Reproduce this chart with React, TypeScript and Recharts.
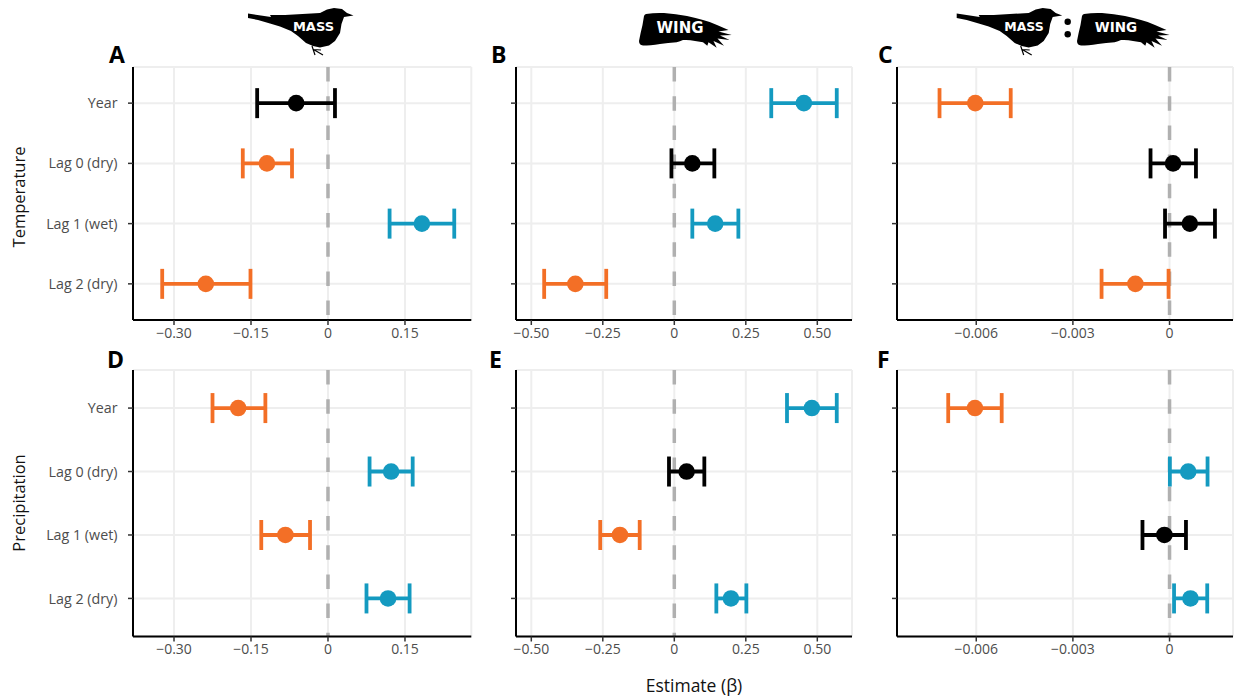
import {
  ScatterChart,
  Scatter,
  ErrorBar,
  XAxis,
  YAxis,
  CartesianGrid,
  ReferenceLine,
} from "recharts";

const ROW_LABELS = ["Year", "Lag 0 (dry)", "Lag 1 (wet)", "Lag 2 (dry)"];
const ROW_POS = [1, 2, 3, 4];

// mass panels
const aEst = [-0.062, -0.119, 0.183, -0.238];
const aLow = [-0.138, -0.166, 0.12, -0.323];
const aHigh = [0.0136, -0.0701, 0.246, -0.151];
const dEst = [-0.175, 0.123, -0.083, 0.117];
const dLow = [-0.225, 0.081, -0.13, 0.075];
const dHigh = [-0.122, 0.165, -0.035, 0.159];

// wing panels
const bEst = [0.453, 0.063, 0.143, -0.346];
const bLow = [0.339, -0.01, 0.063, -0.455];
const bHigh = [0.568, 0.14, 0.224, -0.238];
const eEst = [0.481, 0.043, -0.19, 0.198];
const eLow = [0.394, -0.0186, -0.259, 0.147];
const eHigh = [0.568, 0.105, -0.121, 0.252];

// mass:wing panels
const cEst = [-0.00603, 0.00011, 0.00063, -0.00106];
const cLow = [-0.00714, -0.00059, -0.00014, -0.00211];
const cHigh = [-0.00493, 0.00082, 0.00141, -0.00003];
const fEst = [-0.00604, 0.00058, -0.00016, 0.00065];
const fLow = [-0.00687, 0.00001, -0.00084, 0.00014];
const fHigh = [-0.00521, 0.00118, 0.00051, 0.00117];

const massTicks = [-0.3, -0.15, 0, 0.15];
const massTickLabels = ["−0.30", "−0.15", "0", "0.15"];
const wingTicks = [-0.5, -0.25, 0, 0.25, 0.5];
const wingTickLabels = ["−0.50", "−0.25", "0", "0.25", "0.50"];
const ratioTicks = [-0.006, -0.003, 0];
const ratioTickLabels = ["−0.006", "−0.003", "0"];

const ORANGE = "#f36f26";
const BLUE = "#149ac0";
const BLACK = "#000000";
const FONT = "'Open Sans', sans-serif";
const DASH = 14.5;
const GAP = 14.7;

const BIRD =
  "M248 13.5 L271 17 L270 15 L285 15 L320 13 L327 9.5 L334 8 L342 9 L347 13 L353.5 15.5 L344 17 L341.5 24 L340 33 L335 41 L329 45.5 L320 47.5 L313 46 L306 43 L298 36 L291 31 L280 26.5 L270 23.5 L258 20 L248 18 Z";
const LEGS = "M312 46 L315 55 M313.5 49.5 L323 55 M313.5 49.5 L321 50";
const WING =
  "M646 14 Q655 12.5 664 13 Q676 14 687 16 Q696 18 703 20 Q711 22 717 25 L728.5 30 L718.5 31.5 L731.7 35 L720 35.5 L729.5 40 L717.5 38.5 L724 45.7 L713.5 41 L716.7 47.7 L708.5 42.3 L707.3 45.7 L703 42.3 L695 41 Q689 39.5 683 40 Q680 41.5 676.7 42.3 Q668 43 660 44 Q650 45.5 643 45.5 Q639 45 639 41 Q640.5 33 642.5 25 Q643.5 19 644 16 Q644.5 14.5 646 14 Z";

// dash pattern that lands a whole dash on the bottom end of a line drawn downwards
function dashesFromBottom(height: number) {
  const period = DASH + GAP;
  const phase = (period * 20 - (height - DASH)) % period;
  const first = phase < DASH ? [DASH - phase, GAP] : [0, period - phase];
  const rest = Array(24).fill(`${DASH} ${GAP}`).join(" ");
  return `${first.join(" ")} ${rest}`;
}

type PanelProps = {
  left: number;
  top: number;
  width: number;
  height: number;
  domain: [number, number];
  ticks: number[];
  tickLabels: string[];
  est: number[];
  low: number[];
  high: number[];
  showRows?: boolean;
};

function Panel(props: PanelProps) {
  const { left, top, width, height, domain, ticks, tickLabels, est, low, high, showRows } = props;

  const rows = est.map((x, i) => ({
    x,
    y: ROW_POS[i],
    err: [x - low[i], high[i] - x],
    color: low[i] > 0 ? BLUE : high[i] < 0 ? ORANGE : BLACK,
  }));
  const colors = [BLACK, ORANGE, BLUE].filter((c) => rows.some((r) => r.color === c));

  return (
    <div style={{ position: "absolute", left: left - 133, top: top - 10 }}>
      <ScatterChart
        width={133 + width + 10}
        height={10 + height + 40}
        margin={{ top: 10, right: 10, bottom: 0, left: 0 }}
      >
        <CartesianGrid stroke="#eeeeee" strokeWidth={2} />
        <XAxis
          type="number"
          dataKey="x"
          domain={domain}
          ticks={ticks}
          interval={0}
          height={40}
          tickSize={5}
          tickMargin={3}
          tickFormatter={(v: number) => tickLabels[ticks.indexOf(v)]}
          axisLine={{ stroke: "#000", strokeWidth: 2 }}
          tickLine={{ stroke: "#333", strokeWidth: 1.5 }}
          tick={{ fill: "#4d4d4d", fontSize: 14, fontFamily: FONT }}
        />
        <YAxis
          type="number"
          dataKey="y"
          reversed
          domain={[0.4, 4.6]}
          ticks={ROW_POS}
          interval={0}
          width={133}
          tickSize={5}
          tickMargin={10.5}
          tickFormatter={(v: number) => (showRows ? ROW_LABELS[v - 1] : "")}
          axisLine={{ stroke: "#000", strokeWidth: 2 }}
          tickLine={{ stroke: "#333", strokeWidth: 1.5 }}
          tick={{ fill: "#4d4d4d", fontSize: 14.3, fontFamily: FONT }}
        />
        <ReferenceLine
          x={0}
          stroke="#b0b0b0"
          strokeWidth={3.5}
          strokeDasharray={dashesFromBottom(height)}
        />
        {colors.map((c) => (
          <Scatter
            key={c}
            data={rows.filter((r) => r.color === c)}
            isAnimationActive={false}
            shape={(p: any) => <circle cx={p.cx} cy={p.cy} r={8.3} fill={c} />}
          >
            <ErrorBar dataKey="err" direction="x" width={15} stroke={c} strokeWidth={3.8} isAnimationActive={false} />
          </Scatter>
        ))}
      </ScatterChart>
    </div>
  );
}

function Icons() {
  const letter = { fontFamily: FONT, fontWeight: 700, fontSize: 23, fill: "#000" };
  const label = { fontFamily: FONT, fill: "#111" };
  const icon = { fontFamily: "'DejaVu Sans'", fontWeight: 700, fill: "#fff" };
  return (
    <svg width={1239} height={700} style={{ position: "absolute", left: 0, top: 0, pointerEvents: "none" }}>
      <path d={BIRD} fill="#000" />
      <path d={LEGS} stroke="#000" strokeWidth={1.2} fill="none" />
      <text x={313.5} y={31} textAnchor="middle" fontSize={13} {...icon}>MASS</text>

      <path d={WING} fill="#000" />
      <text x={680} y={33} textAnchor="middle" fontSize={15} {...icon}>WING</text>

      <g transform="translate(708.7 0)">
        <path d={BIRD} fill="#000" />
        <path d={LEGS} stroke="#000" strokeWidth={1.2} fill="none" />
      </g>
      <text x={1024} y={31} textAnchor="middle" fontSize={12.5} {...icon}>MASS</text>
      <circle cx={1067.7} cy={21.7} r={3.2} fill="#000" />
      <circle cx={1067.7} cy={34.3} r={3.2} fill="#000" />
      <g transform="translate(438 0)">
        <path d={WING} fill="#000" />
      </g>
      <text x={1116} y={32} textAnchor="middle" fontSize={13.5} {...icon}>WING</text>

      <text x={109} y={62.5} {...letter}>A</text>
      <text x={491} y={62.5} {...letter}>B</text>
      <text x={878} y={62.5} {...letter}>C</text>
      <text x={107} y={368} {...letter}>D</text>
      <text x={489} y={368} {...letter}>E</text>
      <text x={877} y={368} {...letter}>F</text>

      <text x={0} y={0} transform="translate(25 197) rotate(-90)" textAnchor="middle" fontSize={16.5} {...label}>Temperature</text>
      <text x={0} y={0} transform="translate(25 503) rotate(-90)" textAnchor="middle" fontSize={16.5} {...label}>Precipitation</text>
      <text x={694} y={691.5} textAnchor="middle" fontSize={17.5} {...label}>Estimate (β)</text>
    </svg>
  );
}

export default function App() {
  return (
    <div style={{ position: "absolute", left: 0, top: 0, width: 1239, height: 700 }}>
      <Panel left={132.7} top={67} width={338.3} height={253} domain={[-0.3799, 0.2792]} ticks={massTicks} tickLabels={massTickLabels} est={aEst} low={aLow} high={aHigh} showRows />
      <Panel left={515.7} top={67} width={336} height={253} domain={[-0.5535, 0.6213]} ticks={wingTicks} tickLabels={wingTickLabels} est={bEst} low={bLow} high={bHigh} />
      <Panel left={896.7} top={67} width={336} height={253} domain={[-0.00846, 0.00197]} ticks={ratioTicks} tickLabels={ratioTickLabels} est={cEst} low={cLow} high={cHigh} />
      <Panel left={132.7} top={369.5} width={338.3} height={266.5} domain={[-0.3799, 0.2792]} ticks={massTicks} tickLabels={massTickLabels} est={dEst} low={dLow} high={dHigh} showRows />
      <Panel left={515.7} top={369.5} width={336} height={266.5} domain={[-0.5535, 0.6213]} ticks={wingTicks} tickLabels={wingTickLabels} est={eEst} low={eLow} high={eHigh} />
      <Panel left={896.7} top={369.5} width={336} height={266.5} domain={[-0.00846, 0.00197]} ticks={ratioTicks} tickLabels={ratioTickLabels} est={fEst} low={fLow} high={fHigh} />
      <Icons />
    </div>
  );
}
